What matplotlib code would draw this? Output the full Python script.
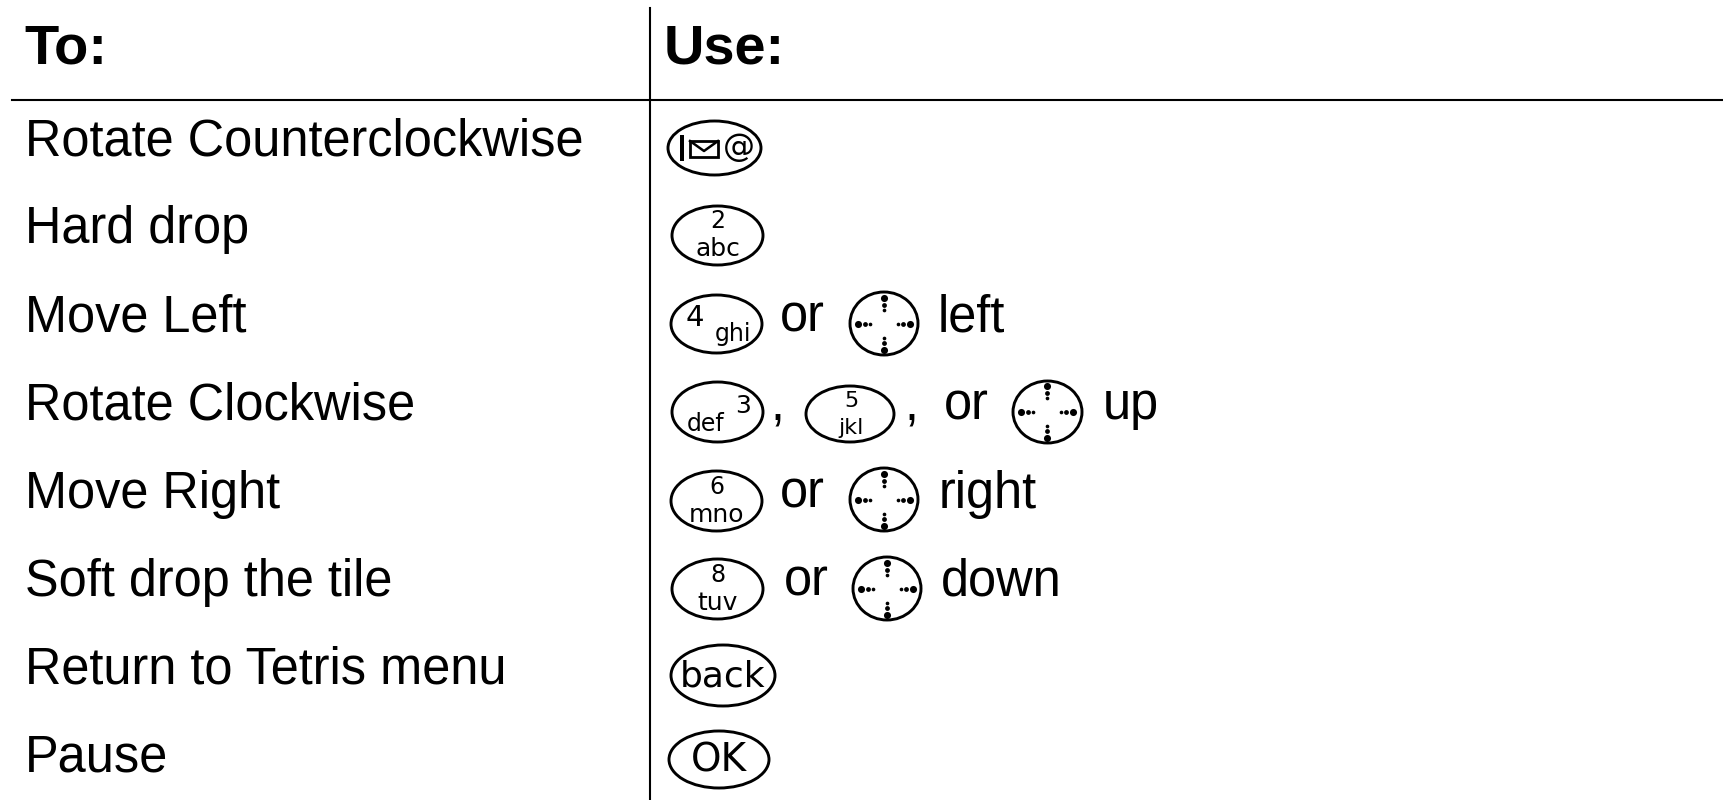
import matplotlib
matplotlib.use("Agg")
import matplotlib.pyplot as plt
from matplotlib.patches import Ellipse, Rectangle

# ---- content -------------------------------------------------------------
header_left = "To:"
header_right = "Use:"
actions = ["Rotate Counterclockwise", "Hard drop", "Move Left", "Rotate Clockwise",
           "Move Right", "Soft drop the tile", "Return to Tetris menu", "Pause"]
key_digits = ["2", "4", "3", "5", "6", "8"]
key_letters = ["abc", "ghi", "def", "jkl", "mno", "tuv"]
word_keys = ["back", "OK"]
connector_texts = ["or", "left", ",", ",", "or", "up", "or", "right", "or", "down"]

# ---- layout (pixels of the 1724x800 canvas) ------------------------------
W, H = 1724, 800
FONT = "Liberation Sans"
BODY = 36.4
KEYFONT = "DejaVu Sans"
baselines = [155, 243, 331, 419, 508, 596, 683, 771]
keys = {  # x0, x1, y0, y1
    "mail": (668, 761, 121, 175), "2": (672, 763, 206, 265), "4": (671, 762, 295, 353),
    "3": (672, 763, 382, 442), "5": (806, 894, 386, 442), "6": (671, 762, 471, 531),
    "8": (672, 763, 559, 619), "back": (671, 775, 645, 706), "OK": (669, 769, 731, 788),
}
# digit dx, digit baseline dy, digit size, letters dx, letters baseline dy, letters size
key_layout = {
    "2": (0, -7, 17, 0, 21, 18), "4": (-22, 2, 21, 17, 17, 17), "3": (26, 1, 18, -12, 19, 17),
    "5": (1, -7, 16, 1, 20, 16), "6": (0, -7, 17, 0, 21, 18), "8": (0, -7, 17, 0, 21, 18),
}
pads = [(850, 918, 292, 355), (1013, 1082, 381, 443), (850, 918, 468, 531), (853, 921, 557, 620)]
dot_arm = [(26, 26), (19, 12), (14, 7)]  # radial offset, marker area
conn_pos = [(780, 331), (938, 331), (771, 419), (905, 419), (944, 419), (1103, 419),
            (780, 508), (939, 508), (784, 596), (941, 596)]

fig = plt.figure(figsize=(W / 100, H / 100), dpi=100, facecolor="white")
ax = fig.add_axes([0, 0, 1, 1])
ax.set_xlim(0, W)
ax.set_ylim(H, 0)
ax.axis("off")


def txt(x, y, s, size=BODY, weight="normal", family=FONT, ha="left", va="baseline"):
    ax.text(x, y, s, fontsize=size, fontweight=weight, family=family, ha=ha, va=va, color="black")


def oval(box):
    x0, x1, y0, y1 = box
    ax.add_patch(Ellipse(((x0 + x1) / 2, (y0 + y1) / 2), x1 - x0, y1 - y0,
                         fc="white", ec="black", lw=2.1))
    return (x0 + x1) / 2, (y0 + y1) / 2


# table rules
ax.plot([12, W], [100, 100], color="black", lw=1.5)
ax.plot([650, 650], [8, H], color="black", lw=1.5)

# headers and action labels
txt(24, 63, header_left, size=40.3, weight="bold")
txt(664, 63, header_right, size=40.3, weight="bold")
for y, a in zip(baselines, actions):
    txt(25, y, a)

# connecting words
for (x, y), s in zip(conn_pos, connector_texts):
    txt(x, y, s)

# message key
oval(keys["mail"])
ax.add_patch(Rectangle((680, 135), 4.5, 26, fc="black", ec="none"))
ax.add_patch(Rectangle((690, 141), 28, 16, fc="white", ec="black", lw=2))
ax.plot([690, 704, 718], [141, 151, 141], color="black", lw=1.8)
txt(739, 148, "@", size=23, family=KEYFONT, ha="center", va="center")

# numeric keys
for d, l in zip(key_digits, key_letters):
    cx, cy = oval(keys[d])
    ddx, ddy, dsize, ldx, ldy, lsize = key_layout[d]
    txt(cx + ddx, cy + ddy, d, size=dsize, family=KEYFONT, ha="center")
    txt(cx + ldx, cy + ldy, l, size=lsize, family=KEYFONT, ha="center")

# word keys
for w, size in zip(word_keys, [26, 28]):
    cx, cy = oval(keys[w])
    txt(cx, cy + 1, w, size=size, family=KEYFONT, ha="center", va="center")

# direction pads
for box in pads:
    cx, cy = oval(box)
    for r, s in dot_arm:
        for dx, dy in [(0, -r), (0, r), (-r, 0), (r, 0)]:
            ax.scatter(cx + dx, cy + dy, s=s, color="black", linewidths=0)

fig.savefig("out.png", dpi=100, facecolor="white")
